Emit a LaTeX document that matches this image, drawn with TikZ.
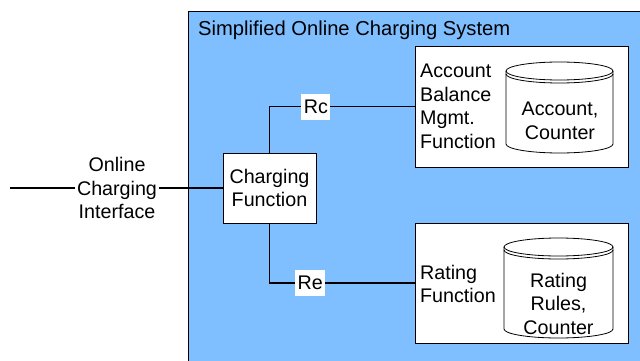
\documentclass[tikz,border=0pt]{standalone}
\usepackage{fontspec}
\setmainfont{Liberation Sans}
\definecolor{ocsblue}{RGB}{128,191,255}
\begin{document}
\begin{tikzpicture}[x=1pt,y=1pt,
		every node/.style={font=\fontsize{19.7}{23.5}\selectfont},
		box/.style={draw=black,line width=0.8pt,fill=white,inner sep=0pt},
		lbl/.style={fill=white,inner sep=2.5pt,minimum height=26pt},
		link/.style={line width=1.5pt}]
			\useasboundingbox (0,0) rectangle (640,-361);
			\clip (0,0) rectangle (640,-361);
			\draw[fill=ocsblue,line width=0.8pt] (188,-11) rectangle (660,-380);
			\node[anchor=base west,inner sep=0pt,font=\fontsize{20.2}{24}\selectfont] (ocs) at (198,-36) {Simplified Online Charging System};
			% function boxes
			\node[box,minimum width=93pt,minimum height=70pt,align=center] (cf) at (269.5,-188) {Charging\\Function};
			\node[box,minimum width=213pt,minimum height=121pt] (abm) at (521.5,-106.5) {};
			\node[box,minimum width=213pt,minimum height=120pt] (rf) at (521.5,-283) {};
			\node[anchor=west,align=left,inner sep=0pt] (abmtext) at (420,-106.5) {Account\\Balance\\Mgmt.\\Function};
			\node[anchor=west,align=left,inner sep=0pt] (rftext) at (420,-284) {Rating\\Function};
			% databases
			\filldraw[fill=white,line width=0.8pt] (506,-71) -- (506,-144) arc[start angle=180,end angle=360,x radius=53.5,y radius=9] -- (613,-71) arc[start angle=0,end angle=180,x radius=53.5,y radius=9] -- cycle;
			\draw[line width=0.8pt] (506,-71) arc[start angle=180,end angle=360,x radius=53.5,y radius=9];
			\draw[line width=0.8pt] (506,-74) arc[start angle=180,end angle=360,x radius=53.5,y radius=9];
			\node[align=center,inner sep=0pt] (acc) at (560,-121) {Account,\\Counter};
			\filldraw[fill=white,line width=0.8pt] (504,-247) -- (504,-329) arc[start angle=180,end angle=360,x radius=54.5,y radius=9] -- (613,-247) arc[start angle=0,end angle=180,x radius=54.5,y radius=9] -- cycle;
			\draw[line width=0.8pt] (504,-247) arc[start angle=180,end angle=360,x radius=54.5,y radius=9];
			\draw[line width=0.8pt] (504,-250) arc[start angle=180,end angle=360,x radius=54.5,y radius=9];
			\node[align=center,inner sep=0pt] (rules) at (558.5,-303.5) {Rating\\Rules,\\Counter};
			% interfaces
			\coordinate (ext) at (10,-188);
			\node[align=center,inner sep=2pt] (oci) at (117,-188) {Online\\Charging\\Interface};
			\draw[link] (ext) -- (oci);
			\draw[link] (oci) -- (cf);
			\draw[link] (cf.north) |- node[pos=0.66,lbl]{Rc} (abm.west);
			\draw[link] (cf.south) |- node[pos=0.64,lbl]{Re} (rf.west);
		\end{tikzpicture}
\end{document}
